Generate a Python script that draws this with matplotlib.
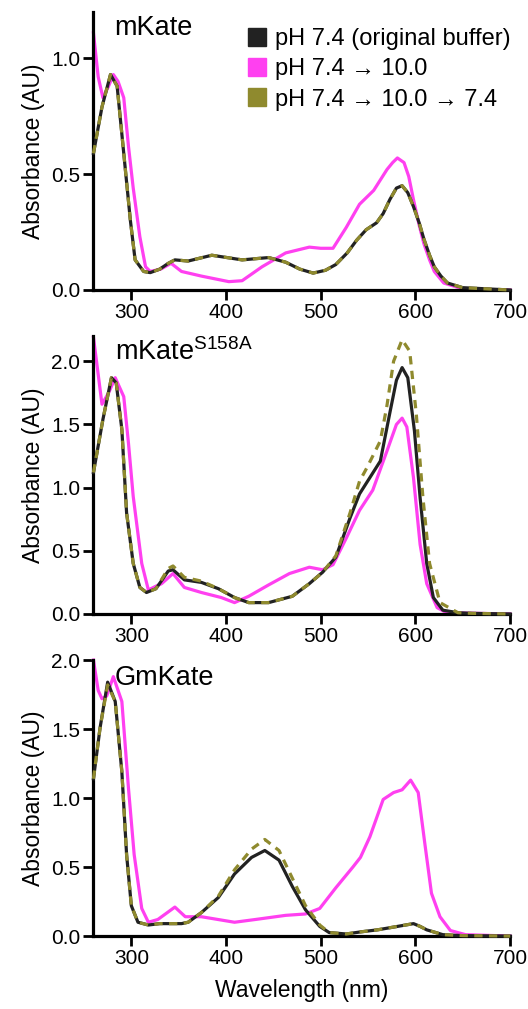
import matplotlib
matplotlib.use("Agg")
import matplotlib.pyplot as plt
from matplotlib.lines import Line2D

plt.rcParams["font.family"] = ["Liberation Sans", "DejaVu Sans"]
plt.rcParams["mathtext.fontset"] = "custom"
plt.rcParams["mathtext.rm"] = "Liberation Sans"

BLACK = "#222222"
PINK = "#ff40f0"
OLIVE = "#8f8a2e"

# ---- mKate ----
mk_wl = [260, 269, 278, 285, 292, 299, 304, 313, 320, 330, 339, 346, 360, 385, 417,
         445, 463, 478, 492, 505, 516, 528, 538, 548, 559, 566, 573, 580, 586, 592,
         598, 604, 609, 615, 620, 627, 634, 650, 700]
mk_orig = [0.59, 0.79, 0.93, 0.88, 0.59, 0.30, 0.13, 0.08, 0.075, 0.09, 0.115, 0.13,
           0.125, 0.15, 0.13, 0.14, 0.12, 0.09, 0.073, 0.085, 0.11, 0.16, 0.215, 0.26,
           0.29, 0.33, 0.39, 0.44, 0.45, 0.42, 0.36, 0.29, 0.22, 0.15, 0.10, 0.06,
           0.03, 0.01, 0.0]
mk_ph10_wl = [260, 265, 270, 276, 281, 286, 292, 297, 302, 309, 315, 320, 331, 342,
              353, 374, 403, 417, 438, 463, 488, 500, 513, 527, 541, 556, 570, 576,
              581, 588, 593, 598, 604, 609, 615, 620, 630, 650, 700]
mk_ph10 = [1.11, 0.92, 0.83, 0.88, 0.93, 0.90, 0.83, 0.62, 0.44, 0.23, 0.10, 0.08,
           0.09, 0.115, 0.08, 0.06, 0.036, 0.04, 0.10, 0.16, 0.185, 0.18, 0.18, 0.27,
           0.37, 0.43, 0.52, 0.55, 0.57, 0.55, 0.49, 0.39, 0.28, 0.20, 0.13, 0.08,
           0.03, 0.005, 0.0]
mk_back = mk_orig

# ---- mKate S158A ----
s158_wl = [260, 270, 279, 284, 290, 295, 302, 309, 316, 326, 339, 344, 356, 374, 392,
           409, 424, 445, 470, 488, 502, 516, 531, 541, 552, 563, 573, 580, 586, 592,
           599, 605, 612, 619, 629, 645, 660, 700]
s158_orig = [1.12, 1.54, 1.87, 1.83, 1.46, 0.80, 0.40, 0.21, 0.17, 0.20, 0.34, 0.35,
             0.27, 0.25, 0.20, 0.13, 0.09, 0.09, 0.14, 0.24, 0.33, 0.45, 0.76, 0.95,
             1.08, 1.21, 1.59, 1.85, 1.95, 1.87, 1.45, 0.92, 0.40, 0.13, 0.03, 0.01,
             0.005, 0.0]
s158_back_wl = [260, 270, 279, 284, 290, 295, 302, 309, 316, 326, 339, 344, 356, 374,
                392, 409, 424, 445, 470, 488, 502, 516, 531, 541, 549, 563, 570, 577,
                586, 594, 601, 608, 615, 626, 645, 660, 700]
s158_back = [1.12, 1.54, 1.87, 1.83, 1.46, 0.80, 0.40, 0.21, 0.17, 0.20, 0.36, 0.38,
             0.29, 0.26, 0.20, 0.13, 0.09, 0.09, 0.14, 0.24, 0.33, 0.46, 0.80, 1.05,
             1.16, 1.37, 1.65, 2.00, 2.17, 2.08, 1.58, 0.92, 0.40, 0.09, 0.01, 0.005,
             0.0]
s158_ph10_wl = [260, 269, 276, 283, 292, 297, 302, 311, 318, 326, 332, 344, 356, 374,
                395, 409, 424, 445, 467, 488, 502, 513, 527, 541, 555, 570, 580, 586,
                591, 598, 605, 612, 623, 633, 700]
s158_ph10 = [2.19, 1.66, 1.75, 1.87, 1.72, 1.35, 0.93, 0.40, 0.19, 0.22, 0.24, 0.32,
             0.21, 0.17, 0.13, 0.09, 0.14, 0.23, 0.32, 0.37, 0.35, 0.39, 0.60, 0.82,
             0.98, 1.29, 1.50, 1.55, 1.48, 1.08, 0.55, 0.24, 0.05, 0.01, 0.0]

# ---- GmKate ----
gm_wl = [260, 267, 275, 283, 290, 295, 300, 307, 318, 330, 353, 360, 374, 392, 409,
         427, 441, 456, 470, 484, 499, 509, 527, 542, 560, 577, 598, 605, 612, 629,
         650, 700]
gm_orig = [1.14, 1.51, 1.84, 1.70, 1.19, 0.59, 0.22, 0.10, 0.08, 0.09, 0.09, 0.10,
           0.17, 0.28, 0.45, 0.57, 0.62, 0.55, 0.36, 0.19, 0.07, 0.025, 0.015, 0.03,
           0.045, 0.065, 0.09, 0.07, 0.045, 0.01, 0.003, 0.0]
gm_back = [1.14, 1.51, 1.82, 1.70, 1.19, 0.59, 0.22, 0.10, 0.08, 0.09, 0.09, 0.10,
           0.17, 0.29, 0.48, 0.63, 0.70, 0.62, 0.42, 0.22, 0.08, 0.025, 0.015, 0.03,
           0.045, 0.065, 0.09, 0.07, 0.045, 0.01, 0.003, 0.0]
gm_ph10_wl = [260, 265, 269, 274, 281, 290, 297, 303, 311, 318, 328, 346, 357, 374,
              409, 431, 463, 484, 499, 516, 534, 542, 552, 566, 577, 586, 595, 603,
              610, 617, 626, 637, 653, 700]
gm_ph10 = [2.00, 1.78, 1.72, 1.74, 1.88, 1.70, 1.07, 0.59, 0.20, 0.10, 0.12, 0.21,
           0.14, 0.14, 0.10, 0.12, 0.15, 0.16, 0.20, 0.35, 0.50, 0.57, 0.72, 0.99,
           1.04, 1.06, 1.13, 1.04, 0.67, 0.31, 0.14, 0.04, 0.01, 0.0]

panels = [
    ("mKate", mk_wl, mk_orig, mk_wl, mk_back, mk_ph10_wl, mk_ph10, 1.2,
     [0.0, 0.5, 1.0], 0.917),
    ("mKate$^{\\mathrm{S158A}}$", s158_wl, s158_orig, s158_back_wl, s158_back,
     s158_ph10_wl, s158_ph10, 2.2, [0.0, 0.5, 1.0, 1.5, 2.0], 0.913),
    ("GmKate", gm_wl, gm_orig, gm_wl, gm_back, gm_ph10_wl, gm_ph10, 2.0,
     [0.0, 0.5, 1.0, 1.5, 2.0], 0.909),
]
boxes = [[0.177, 0.7126, 0.789, 0.2755],
         [0.177, 0.3915, 0.789, 0.2755],
         [0.177, 0.0723, 0.789, 0.2735]]

fig = plt.figure(figsize=(5.28, 10.09), dpi=100)

axes = []
for box, (name, wl, orig, wlb, back, wl10, ph10, ytop, yt, ty) in zip(boxes, panels):
    ax = fig.add_axes(box)
    ax.plot(wl, orig, color=BLACK, lw=2.3, clip_on=False, zorder=3)
    ax.plot(wl10, ph10, color=PINK, lw=2.3, clip_on=False, zorder=2)
    ax.plot(wlb, back, color=OLIVE, lw=2.3, dashes=(2.6, 2.0), clip_on=False, zorder=4)
    ax.set_xlim(260, 700)
    ax.set_ylim(0, ytop)
    ax.set_xticks([300, 400, 500, 600, 700])
    ax.set_yticks(yt)
    ax.set_yticklabels([f"{v:.1f}" for v in yt])
    for s in ["top", "right"]:
        ax.spines[s].set_visible(False)
    for s in ["left", "bottom"]:
        ax.spines[s].set_linewidth(2.3)
    ax.tick_params(width=2.0, length=7.5, labelsize=15, pad=2)
    ax.set_ylabel("Absorbance (AU)", fontsize=16.5, labelpad=4)
    ax.text(0.051, ty, name, transform=ax.transAxes, fontsize=19.5, va="baseline")
    axes.append(ax)

axes[-1].set_xlabel("Wavelength (nm)", fontsize=16.5, labelpad=8)

handles = [Line2D([], [], ls="", marker="s", markersize=13, color=c)
           for c in (BLACK, PINK, OLIVE)]
labels = ["pH 7.4 (original buffer)", "pH 7.4 \u2192 10.0", "pH 7.4 \u2192 10.0 \u2192 7.4"]
axes[0].legend(handles, labels, loc="upper right", bbox_to_anchor=(1.023, 0.976),
               frameon=False, fontsize=17, handletextpad=0.25, labelspacing=0.35,
               borderaxespad=0.0, handlelength=1.0)

fig.savefig("out.png", dpi=100)
